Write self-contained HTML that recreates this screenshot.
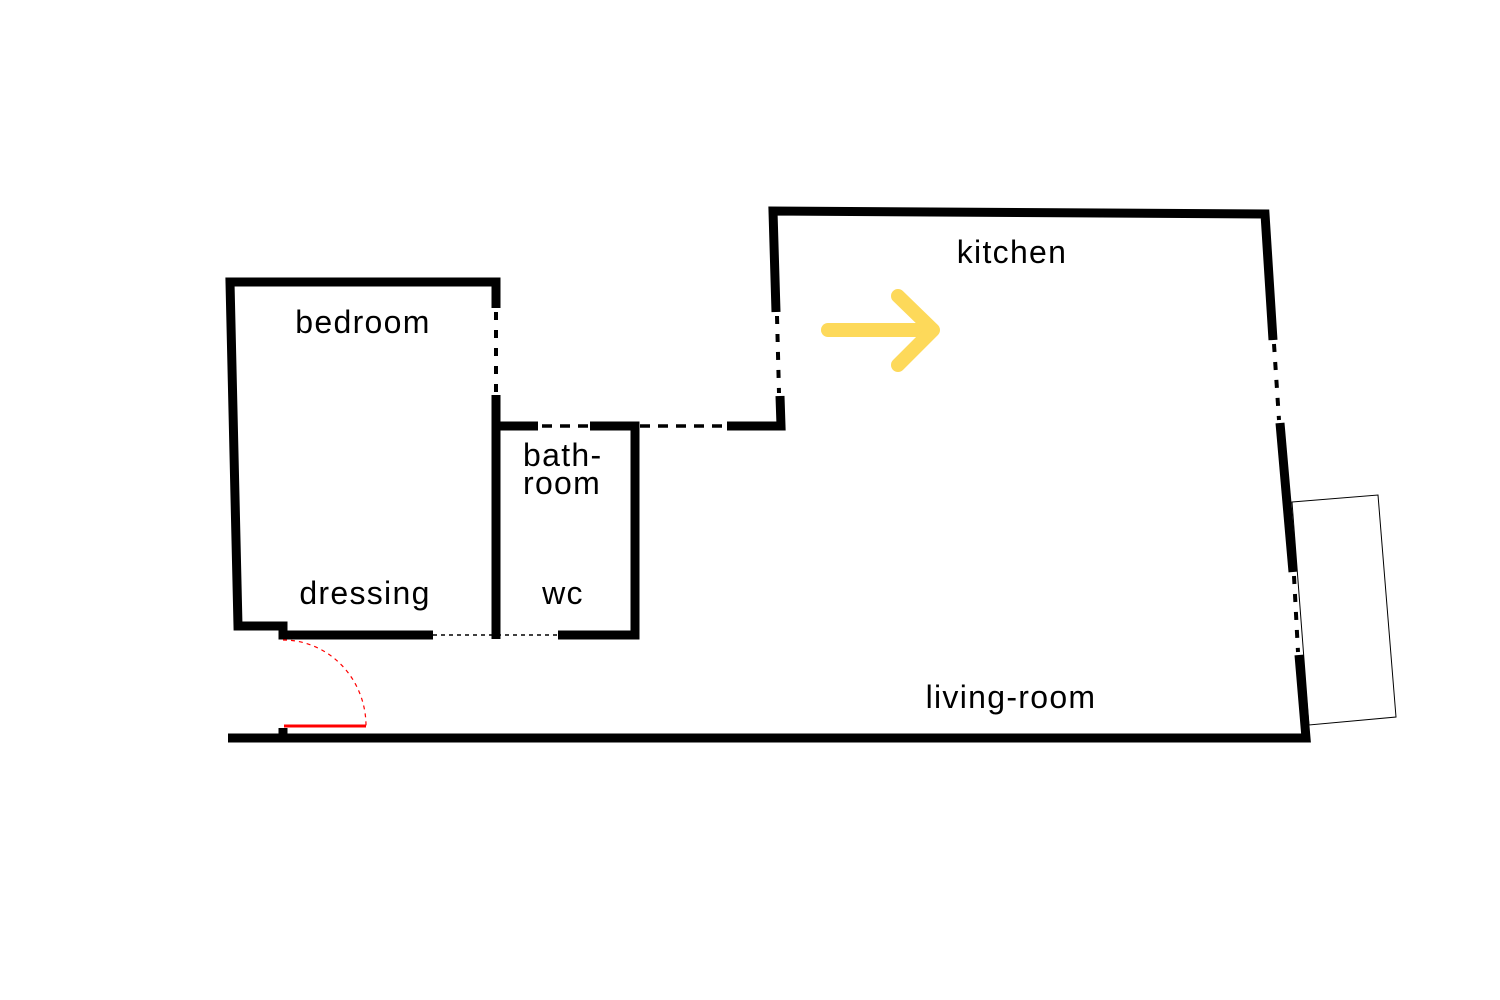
<!DOCTYPE html>
<html><head><meta charset="utf-8"><style>
html,body{margin:0;padding:0;background:#fff;}
svg{display:block;}
text{font-family:"Liberation Sans","DejaVu Sans",sans-serif;font-size:32px;fill:#000;letter-spacing:1.3px;}
</style></head><body>
<svg width="1500" height="1000" viewBox="0 0 1500 1000" xmlns="http://www.w3.org/2000/svg">
<g fill="none" stroke="#000" stroke-width="9" stroke-linecap="butt">
  <polyline points="496,308 496,282 230,282 238,626 283,626 283,635 433,635"/>
  <line x1="496" y1="395" x2="496" y2="639"/>
  <polyline points="496,426 538,426"/>
  <polyline points="590,426 635,426 635,635 558,635"/>
  <polyline points="727,426 781,426 780,396"/>
  <polyline points="776,312 773,211 1265,214 1273,340"/>
  <line x1="1280" y1="423" x2="1293" y2="572"/>
  <polyline points="1299,655 1306,738 228,738"/>
  <line x1="283" y1="728" x2="283" y2="738"/>
</g>
<g fill="none" stroke="#000" stroke-width="4" stroke-dasharray="8,10">
  <line x1="496" y1="312" x2="496" y2="393"/>
  <line x1="777" y1="316" x2="779" y2="393"/>
  <line x1="1274" y1="344" x2="1279" y2="420"/>
  <line x1="1294" y1="576" x2="1298" y2="652"/>
</g>
<g fill="none" stroke="#000" stroke-width="3.5" stroke-dasharray="10,8">
  <line x1="542" y1="426" x2="588" y2="426"/>
  <line x1="640" y1="426" x2="725" y2="426"/>
</g>
<line x1="433" y1="635" x2="558" y2="635" stroke="#000" stroke-width="1.5" stroke-dasharray="4,4"/>
<polygon points="1292,502 1378,495 1396,717 1309,725" fill="none" stroke="#000" stroke-width="1"/>
<line x1="284" y1="726" x2="366" y2="726" stroke="#f00" stroke-width="3"/>
<path d="M283,640 A83,86 0 0 1 366,726" fill="none" stroke="#f00" stroke-width="1.2" stroke-dasharray="4,4"/>
<g fill="none" stroke="#fdd95a" stroke-width="14" stroke-linecap="round" stroke-linejoin="round">
  <line x1="828" y1="330" x2="932" y2="330"/>
  <polyline points="898,296 933,330 898,365"/>
</g>
<text x="363" y="333" text-anchor="middle">bedroom</text>
<text x="1012" y="263" text-anchor="middle">kitchen</text>
<text x="523" y="466">bath-</text>
<text x="523" y="494">room</text>
<text x="365" y="604" text-anchor="middle">dressing</text>
<text x="563" y="604" text-anchor="middle">wc</text>
<text x="1011" y="708" text-anchor="middle">living-room</text>
</svg>
</body></html>
